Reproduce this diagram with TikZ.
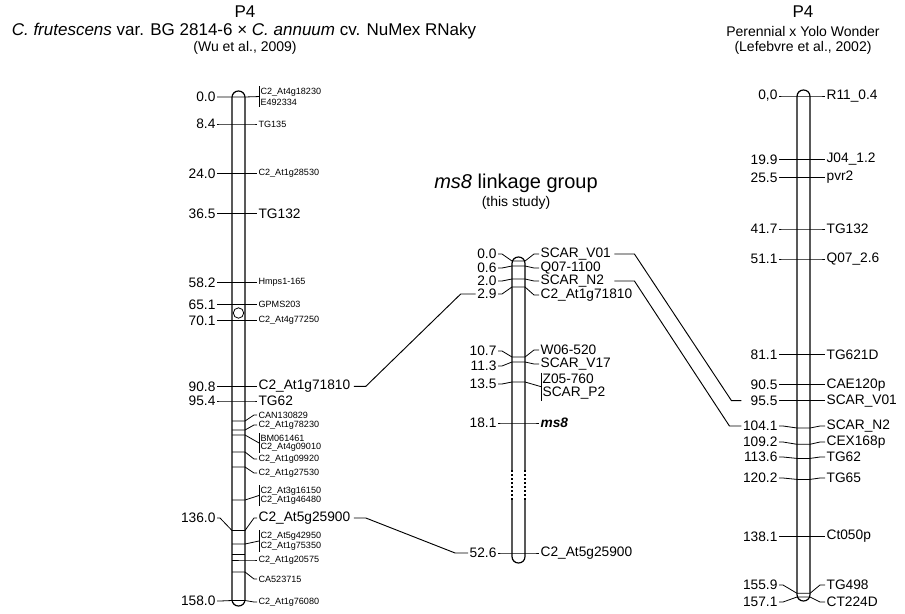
\documentclass[tikz,border=0pt]{standalone}
\usepackage{fontspec}
\setmainfont{Liberation Sans}
\usetikzlibrary{calc}
\newcommand{\fbig}{\fontsize{10.3}{12}\selectfont}
\newcommand{\fsmall}{\fontsize{6.8}{8}\selectfont}
\newcommand{\ftitle}{\fontsize{12.75}{15}\selectfont}
\newcommand{\fsub}{\fontsize{10.5}{12}\selectfont}
\newcommand{\fcross}{\fontsize{12.75}{14}\selectfont}
\newcommand{\fgroup}{\fontsize{15}{17}\selectfont}
\tikzset{
 chrom/.style={line width=0.9pt,rounded corners=4.8pt},
 tick/.style={line width=0.6pt},
 link/.style={line width=0.7pt},
 num/.style={anchor=east,inner sep=1pt,font=\fbig},
 lab/.style={anchor=west,inner sep=1pt}
}

\begin{document}
\begin{tikzpicture}[x=0.75pt,y=-0.75pt]
\useasboundingbox (0,0) rectangle (905,613);
% 1: left map (Wu et al.)
\begin{scope}
 \node[font=\ftitle] (lP4) at (245,12) {P4};
 \node[font=\fcross] (lcross) at (244,31) {\textit{C. frutescens} var. BG 2814-6 × \textit{C. annuum} cv. NuMex RNaky};
 \node[font=\fsub] (lref) at (245,48) {(Wu et al., 2009)};
 \draw[chrom] (232,91) rectangle (245,606);
 \draw[tick] (238.5,313) circle (3.9pt);
 % marker with number and bracket
 \node[num] (ln00) at (217,97) {0.0};
 \node[lab,font=\fsmall] (l00a) at (259,92) {C2\_At4g18230};
 \node[lab,font=\fsmall] (l00b) at (259,102) {E492334};
 \draw[tick] (l00a.north west) -- (l00b.south west);
 \draw[tick] (ln00.east) -- (232,97) -- (245,97) -- ($(l00a.north west)!0.5!(l00b.south west)$);
 % markers with number
 \foreach \nm/\ty/\ny/\num/\ly/\lab/\fs in {
  TG135/124/124/8.4/124/TG135/\fsmall,
  At28/173.5/173.5/24.0/173.5/C2\_At1g28530/\fsmall,
  TG132/213.3/213.3/36.5/213.3/TG132/\fbig,
  Hmps/282.4/282.4/58.2/282.4/Hmps1-165/\fsmall,
  GPMS/304.4/304.4/65.1/304.4/GPMS203/\fsmall,
  At77/320.3/320.3/70.1/320.3/C2\_At4g77250/\fsmall,
  At71/386.3/386.3/90.8/386.3/C2\_At1g71810/\fbig,
  TG62/401/401/95.4/401/TG62/\fbig,
  At25/530.5/518/136.0/518/C2\_At5g25900/\fbig,
  At76/600.5/601/158.0/602/C2\_At1g76080/\fsmall} {
  \node[num] (ln\nm) at (217,\ny) {\num};
  \node[lab,font=\fs] (l\nm) at (257,\ly) {\lab};
  \draw[tick] (ln\nm.east) -- ++(3,0) -- (232,\ty) -- (245,\ty) -- ($(l\nm.west)+(-3,0)$) -- (l\nm.west);
 }
 \draw[line width=1.2pt] (232,530.5) -- (245,530.5);
 % markers without number
 \foreach \nm/\ty/\ly/\lab in {
  CAN/421/415/CAN130829,
  At78/430/425/C2\_At1g78230,
  At09/452/459/C2\_At1g09920,
  At27/467/473/C2\_At1g27530,
  At20/560/560/C2\_At1g20575,
  CA52/572/579/CA523715} {
  \node[lab,font=\fsmall] (l\nm) at (257,\ly) {\lab};
  \draw[tick] (232,\ty) -- (245,\ty) -- ($(l\nm.west)+(-3,0)$) -- (l\nm.west);
 }
 \draw[tick] (232,554) -- (245,554);
 % bracketed pairs
 \foreach \nm/\ty/\lya/\laba/\lyb/\labb in {
  BM/435/438/BM061461/447/C2\_At4g09010,
  At16/500/491/C2\_At3g16150/500/C2\_At1g46480,
  At42/544/536/C2\_At5g42950/546/C2\_At1g75350} {
  \node[lab,font=\fsmall] (l\nm a) at (259,\lya) {\laba};
  \node[lab,font=\fsmall] (l\nm b) at (259,\lyb) {\labb};
  \draw[tick] (l\nm a.north west) -- (l\nm b.south west);
  \draw[tick] (232,\ty) -- (245,\ty) -- ($(l\nm a.north west)!0.5!(l\nm b.south west)$);
 }
\end{scope}
% 2: ms8 group
\begin{scope}
 \node[font=\fgroup] (mtitle) at (516,183) {\textit{ms8} linkage group};
 \node[font=\fsub] (msub) at (516,203) {(this study)};
 \draw[chrom] (512,257) rectangle (525,563);
 \fill[white] (510,470) rectangle (527,500);
 \draw[line width=0.9pt,dash pattern=on 1.5pt off 1.5pt] (512,470) -- (512,500) (525,470) -- (525,500);
 \foreach \nm/\ty/\ny/\num/\ly/\lab in {
  V01/261/254/0.0/254/SCAR\_V01,
  Q07/266/268/0.6/268/Q07-1100,
  N2/279/281/2.0/281/SCAR\_N2,
  At71/287/294/2.9/295/C2\_At1g71810,
  W06/357/351/10.7/350/W06-520,
  V17/362/366/11.3/364/SCAR\_V17,
  ms/423/423/18.1/423/\textbf{\textit{ms8}},
  At25/553/553/52.6/553/C2\_At5g25900} {
  \node[num] (mn\nm) at (498,\ny) {\num};
  \node[lab,font=\fbig] (m\nm) at (539,\ly) {\lab};
  \draw[tick] (mn\nm.east) -- ++(4,0) -- (512,\ty) -- (525,\ty) -- ($(m\nm.west)+(-5,0)$) -- (m\nm.west);
 }
 \node[num] (mnZ05) at (498,384) {13.5};
 \node[lab,font=\fbig] (mZ05) at (541,379) {Z05-760};
 \node[lab,font=\fbig] (mP2) at (541,393) {SCAR\_P2};
 \draw[tick] (mZ05.north west) -- (mP2.south west);
 \draw[tick] (mnZ05.east) -- ++(4,0) -- (512,382) -- (525,382) -- ($(mZ05.north west)!0.5!(mP2.south west)$);
\end{scope}
% 3: right map (Lefebvre et al.)
\begin{scope}
 \node[font=\ftitle] (rP4) at (803,12) {P4};
 \node[font=\fsub] (rcross) at (803,31) {Perennial x Yolo Wonder};
 \node[font=\fsub] (rref) at (803,48) {(Lefebvre et al., 2002)};
 \draw[chrom] (797,90) rectangle (810,601);
 \foreach \nm/\ty/\ny/\num/\ly/\lab in {
  R11/96/96/{0,0}/96/R11\_0.4,
  J04/159.5/159.5/19.9/159.5/J04\_1.2,
  pvr/177.3/177.3/25.5/177.3/pvr2,
  TG132/229/229/41.7/229/TG132,
  Q07/259/259/51.1/259/Q07\_2.6,
  TG621/354.7/354.7/81.1/354.7/TG621D,
  CAE/384.7/384.7/90.5/384.7/CAE120p,
  V01/400.6/400.6/95.5/400.6/SCAR\_V01,
  N2/428/426/104.1/426/SCAR\_N2,
  CEX/444.3/442/109.2/442/CEX168p,
  TG62/458.4/457/113.6/457/TG62,
  TG65/479.4/478/120.2/478/TG65,
  Ct050/536.5/536.5/138.1/536.5/Ct050p,
  TG498/593.3/585/155.9/585/TG498,
  CT224/597/602/157.1/602/CT224D} {
  \node[num] (rn\nm) at (779,\ny) {\num};
  \node[lab,font=\fbig] (r\nm) at (825,\ly) {\lab};
  \draw[tick] (rn\nm.east) -- ++(4,0) -- (797,\ty) -- (810,\ty) -- ($(r\nm.west)+(-5,0)$) -- (r\nm.west);
 }
\end{scope}
% links between the maps
\draw[link] (lAt71.east) ++(2,0) -- ++(12,0) -- ($(mnAt71.west)+(-15,0)$) -- (mnAt71.west);
\draw[link] (lAt25.east) ++(2,0) -- ++(12,0) -- ($(mnAt25.west)+(-13,0)$) -- (mnAt25.west);
\draw[link] (mV01.east) ++(2,0) -- ++(20,0) -- ($(rnN2.west |- rnV01)+(-10,0)$) -- (rnN2.west |- rnV01);
\draw[link] (mV01.east |- mN2) ++(2,0) -- ++(20,0) -- ($(rnN2.west)+(-12,0)$) -- (rnN2.west);
\end{tikzpicture}
\end{document}
